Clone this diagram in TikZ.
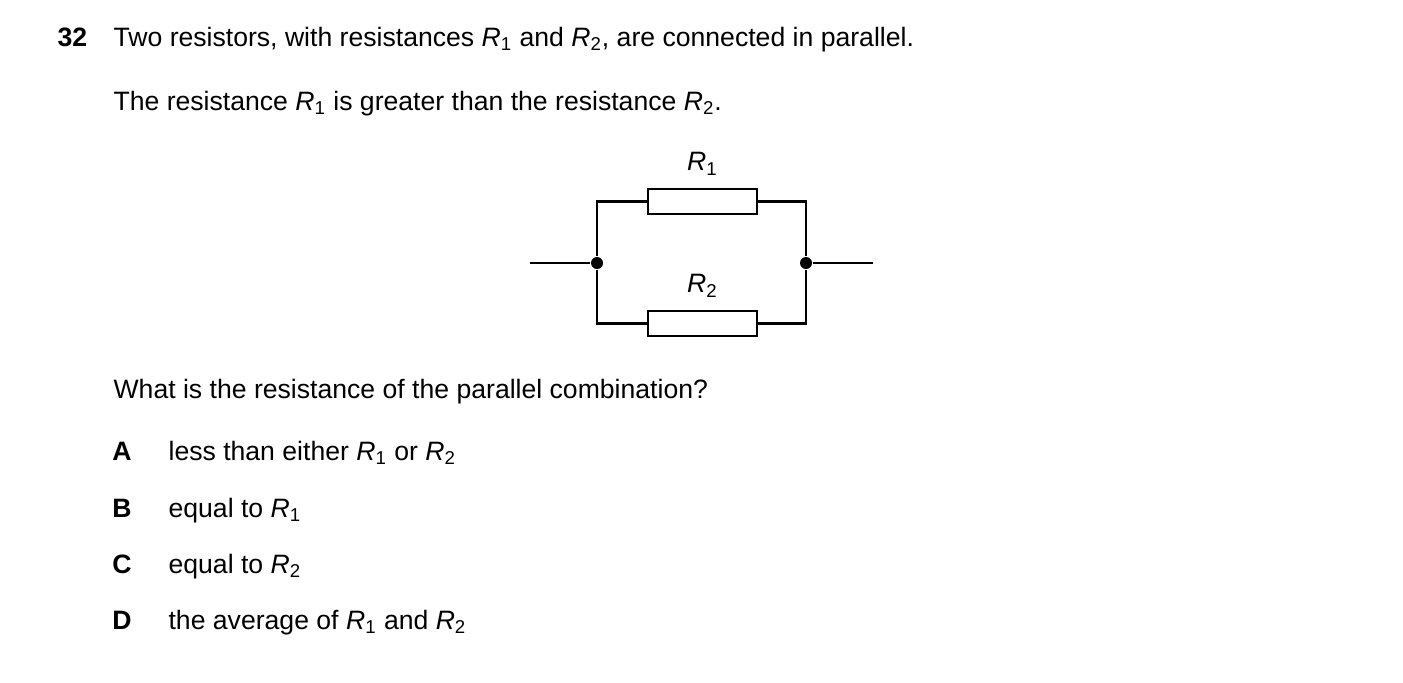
\documentclass[tikz,border=0pt]{standalone}
\usepackage{fontspec}
\setmainfont{Liberation Sans}
\usetikzlibrary{positioning}
\newcommand{\Rsub}[1]{\textit{R}\textsubscript{#1}}
\begin{document}
\begin{tikzpicture}[x=0.5pt,y=-0.5pt,font=\fontsize{13.3}{16}\selectfont,
                    semithick]
  \tikzstyle{txt}=[anchor=base west,inner sep=0pt]
  \tikzstyle{res}=[draw,line width=1.2pt,minimum width=54.5pt,minimum height=12.5pt,inner sep=0pt]
  \tikzstyle{wire}=[line width=1.2pt]
  \tikzstyle{dot}=[circle,fill,inner sep=0pt,minimum size=6pt]
  \useasboundingbox (0,0) rectangle (1403,682);

  \node[txt,font=\fontsize{13.3}{16}\selectfont\bfseries] (num) at (57,46) {32};
  \node[txt] (l1) at (113,46) {Two resistors, with resistances \Rsub{1} and \Rsub{2}, are connected in parallel.};
  \node[txt] (l2) at (113,110) {The resistance \Rsub{1} is greater than the resistance \Rsub{2}.};

  % circuit
  \node[res] (R1) at (702.5,201.5) {};
  \node[res] (R2) at (702.5,323.5) {};
  \node[above=6pt of R1,inner sep=0pt] (lR1) {\Rsub{1}};
  \node[above=6pt of R2,inner sep=0pt] (lR2) {\Rsub{2}};
  \node[dot] (jl) at (597,263) {};
  \node[dot] (jr) at (806,263) {};
  \coordinate (inl) at (530,263);
  \coordinate (outr) at (873,263);
  \draw[wire] (R1.west) -| (jl) |- (R2.west);
  \draw[wire] (R1.east) -| (jr) |- (R2.east);
  \draw[wire] (inl) -- (jl);
  \draw[wire] (jr) -- (outr);

  \node[txt] (q) at (113,398) {What is the resistance of the parallel combination?};
  \foreach \k/\y/\t in {A/460/{less than either \Rsub{1} or \Rsub{2}},
                        B/517/{equal to \Rsub{1}},
                        C/573/{equal to \Rsub{2}},
                        D/629/{the average of \Rsub{1} and \Rsub{2}}}{
    \node[anchor=base,inner sep=0pt,font=\fontsize{13.3}{16}\selectfont\bfseries] (opt\k) at (122,\y) {\k};
    \node[txt] (ans\k) at (168,\y) {\t};
  }
\end{tikzpicture}
\end{document}
